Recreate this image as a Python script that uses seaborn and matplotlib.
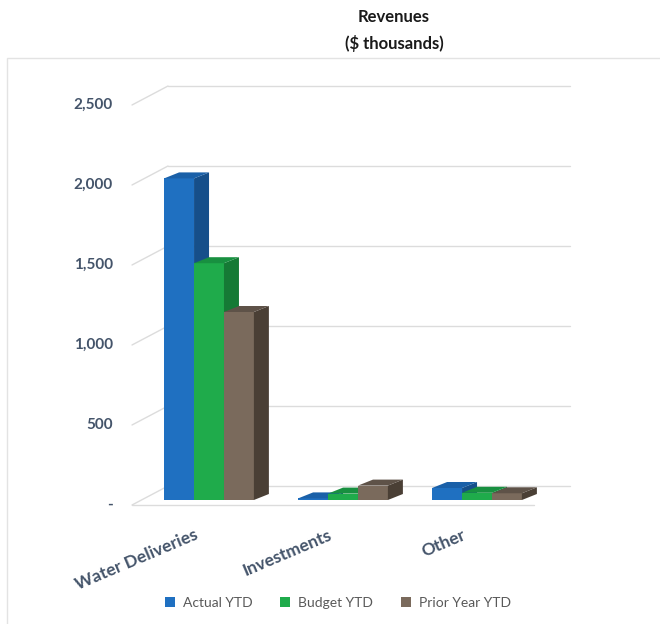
import numpy as np
import pandas as pd
import matplotlib
matplotlib.use("Agg")
import matplotlib.pyplot as plt
from matplotlib.patches import Polygon, Rectangle, Patch
import seaborn as sns

categories = ["Water Deliveries", "Investments", "Other"]
series = ["Actual YTD", "Budget YTD", "Prior Year YTD"]
actual_ytd = [2010, 10, 75]
budget_ytd = [1480, 40, 45]
prior_year_ytd = [1175, 90, 42]
tick_values = [0, 500, 1000, 1500, 2000, 2500]
tick_labels = ["-", "500", "1,000", "1,500", "2,000", "2,500"]

front_colors = ["#1F70C1", "#1FAB4B", "#7A6A5C"]
side_colors = ["#164F8A", "#157A35", "#4A3F35"]
top_colors = ["#1A60A8", "#189040", "#5E5248"]

df = pd.DataFrame({
    "category": np.repeat(categories, 3),
    "series": series * 3,
    "value": [v for trip in zip(actual_ytd, budget_ytd, prior_year_ytd) for v in trip],
})

sns.set_theme(style="white")
plt.rcParams["font.family"] = ["Lato", "DejaVu Sans"]

W, H = 660, 624
fig = plt.figure(figsize=(W / 100, H / 100), dpi=100)
ax_l, ax_r, ax_b, ax_t = 132, 570, 500, 86
ax = fig.add_axes([ax_l / W, 1 - ax_b / H, (ax_r - ax_l) / W, (ax_b - ax_t) / H])

sns.barplot(data=df, x="category", y="value", hue="series", order=categories,
            hue_order=series, palette=front_colors, width=0.67, ax=ax,
            saturation=1, legend=False, linewidth=0)

ppx = 134.0  # pixels per category unit
x0c = 209.0
xmin = (ax_l - x0c) / ppx
xmax = (ax_r - x0c) / ppx
ymax = (ax_b - ax_t) / 80.0 * 500
ax.set_xlim(xmin, xmax)
ax.set_ylim(0, ymax)
xpp = (xmax - xmin) / (ax_r - ax_l)
ypp = ymax / (ax_b - ax_t)

for s in ax.spines.values():
    s.set_visible(False)
ax.set_xlabel("")
ax.set_ylabel("")
ax.set_xticks([])
ax.set_yticks([])
ax.patch.set_alpha(0)

grid_c = "#DCDCDC"
wall_dx, wall_dy = 36 * xpp, 14 * ypp
front_dy = -5 * ypp
for v, lab in zip(tick_values, tick_labels):
    ax.plot([xmin + wall_dx, xmax], [v + wall_dy, v + wall_dy], color=grid_c,
            lw=1.0, zorder=1, clip_on=False)
    ax.plot([xmin, xmin + wall_dx], [v + front_dy, v + wall_dy], color=grid_c,
            lw=1.0, zorder=1, clip_on=False)
    ax.text(xmin - 19 * xpp, v + front_dy, lab, ha="right", va="center",
            fontsize=11, fontweight="bold", color="#44546A", clip_on=False)
# floor front edge
ax.plot([xmin, xmax - wall_dx], [front_dy, front_dy], color=grid_c, lw=1.0,
        zorder=1, clip_on=False)

# 3D depth faces
bdx, bdy = 15 * xpp, 6 * ypp
for i, cont in enumerate(ax.containers):
    for p in cont.patches:
        x0 = p.get_x()
        x1 = x0 + p.get_width()
        y1 = p.get_height()
        p.set_zorder(3 + 3 * i)
        side = Polygon([(x1, 0), (x1, y1), (x1 + bdx, y1 + bdy), (x1 + bdx, bdy)],
                       closed=True, facecolor=side_colors[i], edgecolor="none",
                       zorder=4 + 3 * i, clip_on=False)
        top = Polygon([(x0, y1), (x1, y1), (x1 + bdx, y1 + bdy), (x0 + bdx, y1 + bdy)],
                      closed=True, facecolor=top_colors[i], edgecolor="none",
                      zorder=4 + 3 * i, clip_on=False)
        ax.add_patch(side)
        ax.add_patch(top)

# category labels
for k, cat in enumerate(categories):
    ax.text(k - 15 * xpp, -27 * ypp, cat, rotation=23, rotation_mode="anchor",
            ha="right", va="top", fontsize=12.5, fontweight="bold",
            color="#44546A", clip_on=False)

# title
fig.text(394 / W, 1 - 17 / H, "Revenues", ha="center", va="center",
         fontsize=12, fontweight="bold", color="#1a1a1a")
fig.text(394 / W, 1 - 43 / H, "($ thousands)", ha="center", va="center",
         fontsize=12, fontweight="bold", color="#1a1a1a")

# legend
handles = [Patch(facecolor=c, edgecolor="none", label=s) for c, s in zip(front_colors, series)]
fig.legend(handles=handles, loc="center", bbox_to_anchor=(338 / W, 1 - 603 / H),
           ncol=3, frameon=False, fontsize=10, handlelength=0.7, handleheight=0.7,
           handletextpad=0.6, columnspacing=2.0, labelcolor="#595959")

# chart frame
fig.add_artist(Rectangle((7 / W, -0.1), 1.2, 1 - 58 / H + 0.1, transform=fig.transFigure,
                         facecolor="none", edgecolor="#E3E3E3", lw=1.0))

fig.savefig("out.png", dpi=100)
